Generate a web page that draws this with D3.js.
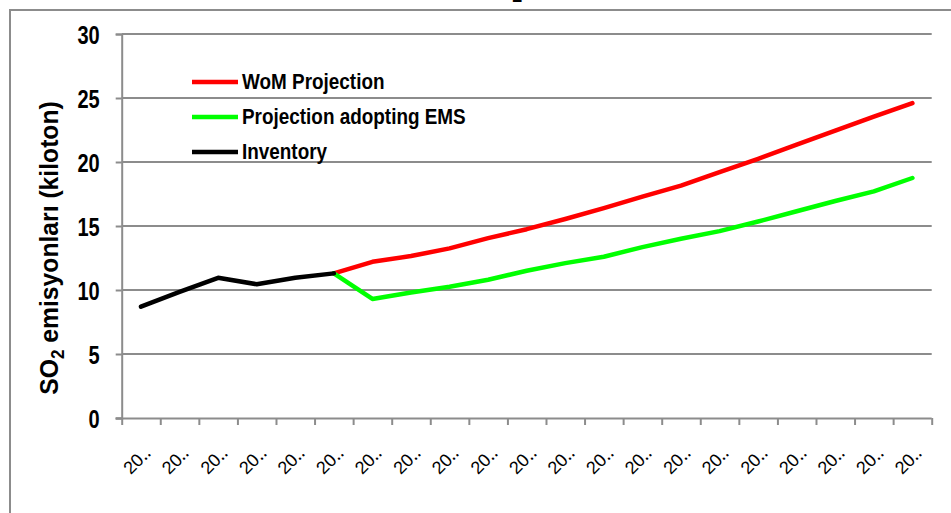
<!DOCTYPE html>
<html>
<head>
<meta charset="utf-8">
<script src="https://cdn.jsdelivr.net/npm/d3@7/dist/d3.min.js"></script>
<style>
  html, body { margin: 0; padding: 0; background: #fff; }
  svg { display: block; }
  text { font-family: "Liberation Sans", Arial, sans-serif; }
</style>
</head>
<body>
<svg id="chart" width="951" height="513"></svg>
<script>
// Year slots along the x axis (labels are shown truncated, as "20‥")
const tickLabels = ["20‥","20‥","20‥","20‥","20‥","20‥","20‥","20‥","20‥","20‥","20‥",
                    "20‥","20‥","20‥","20‥","20‥","20‥","20‥","20‥","20‥","20‥"];

// SO2 emissions, kiloton
const inventory     = [8.7, 9.85, 10.95, 10.45, 10.95, 11.3];                 // slots 0-5
const womProjection = [11.3, 12.2, 12.65, 13.25, 14.05, 14.75, 15.55, 16.4,
                       17.3, 18.15, 19.2, 20.25, 21.35, 22.45, 23.55, 24.6];  // slots 5-20
const emsProjection = [11.3, 9.3, 9.8, 10.25, 10.8, 11.5, 12.1, 12.6,
                       13.35, 14.0, 14.6, 15.35, 16.15, 16.95, 17.7, 18.75];  // slots 5-20
const projectionStart = 5;

const yTicks = [0, 5, 10, 15, 20, 25, 30];

const series = [
  { name: "WoM Projection",          color: "#ff0000", start: projectionStart, values: womProjection },
  { name: "Projection adopting EMS", color: "#00ff00", start: projectionStart, values: emsProjection },
  { name: "Inventory",               color: "#000000", start: 0,               values: inventory }
];

const svg = d3.select("#chart");
const grid = "#8c8c8c";
const narrow = 0.8;   // horizontal squeeze giving the bold labels a condensed look

const plot = { left: 121.7, right: 931.7, top: 34, bottom: 418 };

const x = d3.scaleBand().domain(d3.range(tickLabels.length)).range([plot.left, plot.right]).padding(0);
const xEdge = d3.scaleLinear().domain([0, tickLabels.length]).range([plot.left, plot.right]);
const y = d3.scaleLinear().domain([0, 30]).range([plot.bottom, plot.top]);
const cx = i => x(i) + x.bandwidth() / 2;

// chart-area frame
svg.append("rect")
  .attr("x", 10).attr("y", 10).attr("width", 980).attr("height", 560)
  .attr("fill", "none").attr("stroke", grid).attr("stroke-width", 2);

// chart title (runs above the top edge; only the subscript foot shows)
svg.append("text")
  .attr("x", 500).attr("y", -10)
  .attr("text-anchor", "middle")
  .attr("font-size", 24).attr("font-weight", "bold").attr("fill", "#000")
  .text("SO")
  .append("tspan").attr("dy", 12).attr("font-size", 18).text("2");

// horizontal gridlines
svg.append("g")
  .selectAll("line")
  .data(yTicks.filter(v => v > 0))
  .join("line")
  .attr("x1", plot.left).attr("x2", plot.right)
  .attr("y1", d => y(d)).attr("y2", d => y(d))
  .attr("stroke", grid).attr("stroke-width", 2);

// y axis
const yAxis = svg.append("g")
  .attr("transform", `translate(${plot.left},0)`)
  .call(d3.axisLeft(y).tickValues(yTicks).tickSize(6));
yAxis.select(".domain").attr("stroke", grid).attr("stroke-width", 2);
yAxis.selectAll(".tick line").attr("stroke", grid).attr("stroke-width", 2);
yAxis.selectAll(".tick text")
  .attr("x", null).attr("dy", "0.36em")
  .attr("transform", `translate(-22,0) scale(${narrow},1)`)
  .attr("font-size", 25).attr("font-weight", "bold").attr("fill", "#000");

// x axis (ticks between the year slots)
const xAxis = svg.append("g")
  .attr("transform", `translate(0,${plot.bottom})`)
  .call(d3.axisBottom(xEdge).tickValues(d3.range(tickLabels.length + 1)).tickSize(7).tickFormat(""));
xAxis.select(".domain").attr("stroke", grid).attr("stroke-width", 2).attr("d", `M${plot.left - 6},0.5H${plot.right}`);
xAxis.selectAll(".tick line").attr("stroke", grid).attr("stroke-width", 2);

// rotated slot labels
svg.append("g")
  .selectAll("text")
  .data(tickLabels)
  .join("text")
  .attr("transform", (d, i) => `translate(${cx(i) + 11},${plot.bottom + 36}) rotate(-45)`)
  .attr("text-anchor", "end")
  .attr("font-size", 18)
  .attr("fill", "#000")
  .text(d => d);

// y axis title
const yTitle = svg.append("text")
  .attr("transform", `translate(58,248) rotate(-90) scale(0.95,1)`)
  .attr("text-anchor", "middle")
  .attr("font-size", 26).attr("font-weight", "bold").attr("fill", "#000");
yTitle.append("tspan").text("SO");
yTitle.append("tspan").attr("font-size", 18).attr("dy", 6).text("2");
yTitle.append("tspan").attr("dy", -6).text(" emisyonları (kiloton)");

// series lines
const line = d3.line()
  .x(d => cx(d.i))
  .y(d => y(d.v));

svg.append("g")
  .selectAll("path")
  .data(series)
  .join("path")
  .attr("d", s => line(s.values.map((v, k) => ({ i: s.start + k, v }))))
  .attr("fill", "none")
  .attr("stroke", s => s.color)
  .attr("stroke-width", 4.5)
  .attr("stroke-linejoin", "round")
  .attr("stroke-linecap", "round");

// legend
const legend = svg.append("g").attr("transform", "translate(192,82)");
const item = legend.selectAll("g")
  .data(series)
  .join("g")
  .attr("transform", (d, i) => `translate(0,${i * 35})`);
item.append("line")
  .attr("x1", 0).attr("x2", 46)
  .attr("stroke", d => d.color).attr("stroke-width", 4.5);
item.append("text")
  .attr("transform", `translate(50,7) scale(0.86,1)`)
  .attr("font-size", 22).attr("font-weight", "bold").attr("fill", "#000")
  .text(d => d.name);
</script>
</body>
</html>
